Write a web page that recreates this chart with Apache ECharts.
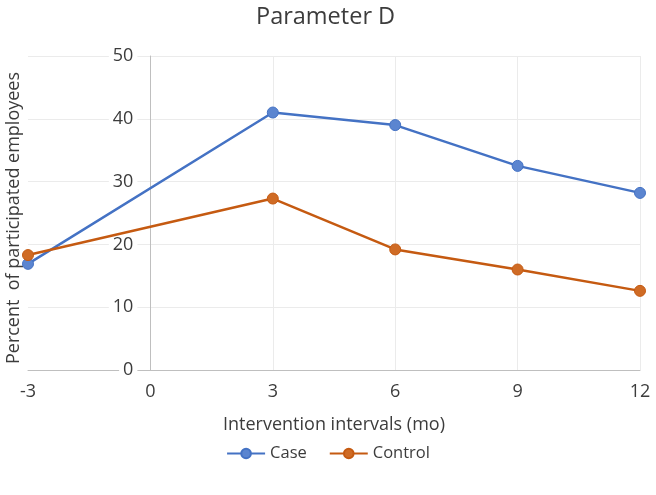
<!DOCTYPE html>
<html>
<head>
<meta charset="utf-8">
<script src="https://cdn.jsdelivr.net/npm/echarts@6/dist/echarts.min.js"></script>
<style>html,body{margin:0;padding:0;background:#fff}#c{width:656px;height:495px}</style>
</head>
<body>
<div id="c"></div>
<script>
var intervals = [-3, 3, 6, 9, 12];
var caseValues = [16.9, 41.0, 39.0, 32.5, 28.2];
var controlValues = [18.3, 27.3, 19.2, 16.0, 12.6];
var seriesNames = ['Case', 'Control'];
var titleText = 'Parameter D';
var xAxisName = 'Intervention intervals (mo)';
var yAxisName = 'Percent  of participated employees';

function pairs(xs, ys) { return xs.map(function (x, i) { return [x, ys[i]]; }); }

var font = 'Open Sans';
var textColor = '#3c3c3c';
var gridLeft = 28, gridRight = 16, W = 656;
var xMin = -3, xMax = 12;
var yAxisShift = (0 - xMin) / (xMax - xMin) * (W - gridLeft - gridRight);

var chart = echarts.init(document.getElementById('c'), null, { renderer: 'canvas' });
chart.setOption({
  animation: false,
  backgroundColor: '#fff',
  title: {
    text: titleText, left: 251, top: 0,
    textStyle: { fontFamily: font, fontSize: 23.5, fontWeight: 'normal', color: textColor }
  },
  legend: {
    bottom: 28, left: 'center', itemWidth: 38, itemHeight: 12, itemGap: 22,
    textStyle: { fontFamily: font, fontSize: 16.5, color: textColor },
    data: seriesNames
  },
  grid: { left: gridLeft, right: gridRight, top: 56, bottom: 125, containLabel: false },
  xAxis: {
    type: 'value', min: xMin, max: xMax, interval: 3,
    name: xAxisName, nameLocation: 'middle', nameGap: 46,
    nameTextStyle: { fontFamily: font, fontSize: 18, color: textColor },
    axisLine: { show: true, onZero: false, lineStyle: { color: '#bfbfbf', width: 1 } },
    axisTick: { show: false },
    axisLabel: { fontFamily: font, fontSize: 18, color: textColor, margin: 13 },
    splitLine: { show: true, lineStyle: { color: ['rgba(0,0,0,0)', '#ebebeb', '#ebebeb', '#ebebeb', '#ebebeb', '#ebebeb'], width: 1 } }
  },
  yAxis: {
    type: 'value', min: 0, max: 50, interval: 10,
    offset: -yAxisShift,
    axisLine: { show: true, onZero: false, lineStyle: { color: '#bfbfbf', width: 1 } },
    axisTick: { show: false },
    axisLabel: { fontFamily: font, fontSize: 18, color: textColor, margin: 13,
      backgroundColor: '#fff', padding: [0, 4] },
    splitLine: { show: true, lineStyle: { color: '#ebebeb', width: 1 } }
  },
  graphic: [{
    type: 'text', x: 14, y: 218, rotation: Math.PI / 2,
    style: { text: yAxisName, font: '18px "' + font + '"', fill: textColor,
      textAlign: 'center', textVerticalAlign: 'middle' }
  }],
  series: [{
    name: seriesNames[0], type: 'line', data: pairs(intervals, caseValues),
    symbol: 'circle', symbolSize: 11, color: '#4472C4',
    lineStyle: { color: '#4472C4', width: 2.5 },
    itemStyle: { color: '#5B85D0', borderColor: '#4472C4', borderWidth: 1 }
  }, {
    name: seriesNames[1], type: 'line', data: pairs(intervals, controlValues),
    symbol: 'circle', symbolSize: 11, color: '#C55A11',
    lineStyle: { color: '#C55A11', width: 2.5 },
    itemStyle: { color: '#CF6B25', borderColor: '#C55A11', borderWidth: 1 }
  }]
});
</script>
</body>
</html>
